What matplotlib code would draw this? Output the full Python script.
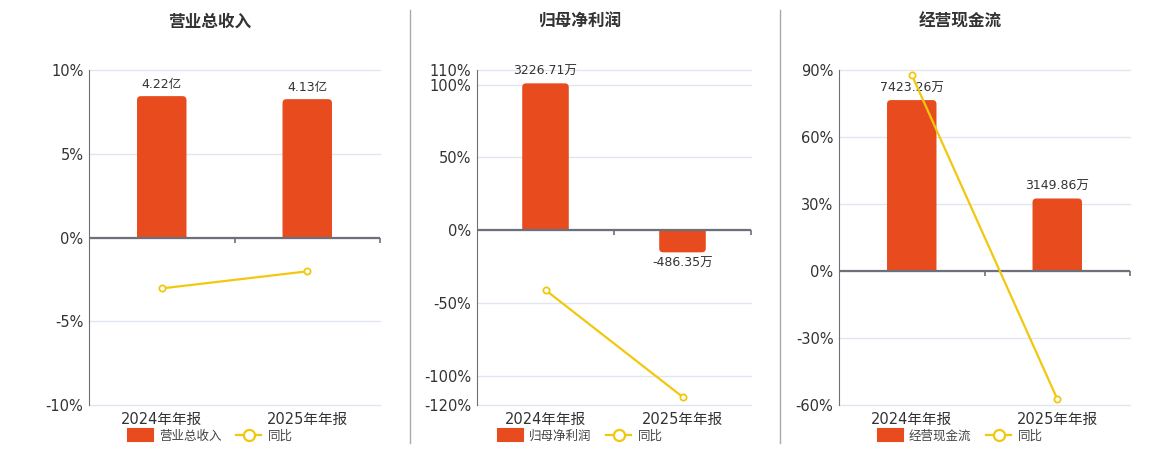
import numpy as np
import matplotlib
matplotlib.use("Agg")
import matplotlib.pyplot as plt
from matplotlib.lines import Line2D
from matplotlib.patches import Patch, PathPatch
from matplotlib.path import Path
from matplotlib.ticker import FuncFormatter

plt.rcParams['font.family'] = ['DejaVu Sans', 'Noto Sans CJK SC']

cats = ['2024年年报', '2025年年报']

rev = [4.22, 4.13]            # 亿
rev_yoy = [-3.04, -2.02]      # %
profit = [3226.71, -486.35]   # 万
profit_yoy = [-41.1, -114.4]
cash = [7423.26, 3149.86]     # 万
cash_yoy = [87.8, -57.3]

titles = ['营业总收入', '归母净利润', '经营现金流']
units = ['亿', '万', '万']

BAR = '#e84c1e'
LINE = '#f2c80f'
AXC = '#6e7079'
GRID = '#e0e6f1'
TXT = '#333333'

panels = [
    dict(bars=rev, yoy=rev_yoy, lim=(-10, 10), ticks=[-10, -5, 0, 5, 10], k=0.5),
    dict(bars=profit, yoy=profit_yoy, lim=(-120, 110), ticks=[-120, -100, -50, 0, 50, 100, 110], k=32.0),
    dict(bars=cash, yoy=cash_yoy, lim=(-60, 90), ticks=[-60, -30, 0, 30, 60, 90], k=97.0),
]

W, H = 1160, 450
fig = plt.figure(figsize=(W / 100, H / 100), dpi=100)

boxes = [(89, 380), (477, 751), (839, 1130)]
centers = [210, 580, 960]
top_px, bot_px = 70, 405


def round_bars(ax, bars, xpp, ypp, rpx=4):
    # swap square bars for ones with rounded outer corners
    for b in bars:
        x0, w, h = b.get_x(), b.get_width(), b.get_height()
        b.remove()
        x1 = x0 + w
        rx = rpx * xpp
        ry = rpx * ypp * (1 if h >= 0 else -1)
        verts = [(x0, 0), (x0, h - ry), (x0, h), (x0 + rx, h), (x1 - rx, h),
                 (x1, h), (x1, h - ry), (x1, 0), (x0, 0)]
        codes = [Path.MOVETO, Path.LINETO, Path.CURVE3, Path.CURVE3, Path.LINETO,
                 Path.CURVE3, Path.CURVE3, Path.LINETO, Path.CLOSEPOLY]
        ax.add_patch(PathPatch(Path(verts, codes), fc=BAR, ec='none', zorder=2))


for i, p in enumerate(panels):
    l, r = boxes[i]
    ax = fig.add_axes([l / W, 1 - bot_px / H, (r - l) / W, (bot_px - top_px) / H])
    k = p['k']
    lo, hi = p['lim']
    x = np.arange(len(cats))

    # bars axis (bottom), scaled so zero lines up with the percent axis
    ax.set_xlim(-0.5, 1.5)
    ax.set_ylim(lo * k, hi * k)
    ax.set_yticks([t * k for t in p['ticks']])
    ax.yaxis.set_major_formatter(FuncFormatter(lambda v, _, k=k: f"{v / k:.0f}%"))
    for t in p['ticks']:
        ax.axhline(t * k, color=GRID, lw=1, zorder=0, clip_on=False)
    bars = ax.bar(x, p['bars'], width=0.34, color=BAR, zorder=2)
    xpp = 2 / (r - l)
    ypp = (hi - lo) * k / (bot_px - top_px)
    for b, v in zip(bars, p['bars']):
        va = 'bottom' if v >= 0 else 'top'
        off = 4 if v >= 0 else -3
        ax.annotate(f"{v:.2f}{units[i]}", (b.get_x() + b.get_width() / 2, v),
                    xytext=(0, off), textcoords='offset points', ha='center', va=va,
                    fontsize=9, color=TXT, zorder=5)
    round_bars(ax, bars, xpp, ypp)

    ax.set_xticks(x)
    ax.set_xticklabels(cats, fontsize=10.5, color=TXT)
    ax.tick_params(axis='x', length=0, pad=5)
    ax.tick_params(axis='y', length=0, labelsize=10.5, labelcolor=TXT, pad=4)
    for s in ['top', 'right', 'bottom']:
        ax.spines[s].set_visible(False)
    ax.spines['left'].set_color(AXC)
    ax.spines['left'].set_zorder(3)

    # percent axis on top for the yoy line
    ay = ax.twinx()
    ay.set_ylim(lo, hi)
    ay.set_yticks([])
    for s in ay.spines.values():
        s.set_visible(False)
    ay.axhline(0, color=AXC, lw=1.6, zorder=3)
    tl = (hi - lo) * 5 / (bot_px - top_px)
    ay.vlines([0.5, 1.5], -tl, 0, color=AXC, lw=1.2, zorder=3, clip_on=False)
    ay.plot(x, p['yoy'], color=LINE, lw=1.6, marker='o', ms=4.5,
            mfc='white', mec=LINE, mew=1.3, zorder=4, clip_on=False)

    fig.text(centers[i] / W, 1 - 22 / H, titles[i], ha='center', va='center',
             fontsize=12, fontweight='bold', color=TXT)

    handles = [Patch(facecolor=BAR, edgecolor=BAR, capstyle='round', joinstyle='round', lw=1.5),
               Line2D([0], [0], color=LINE, lw=1.6, marker='o', ms=8, mfc='white', mec=LINE, mew=1.6)]
    fig.legend(handles, [titles[i], '同比'], loc='center', ncol=2,
               bbox_to_anchor=(centers[i] / W, 1 - 436 / H), frameon=False,
               fontsize=9, handlelength=2.0, handleheight=1.1, columnspacing=1.2,
               handletextpad=0.5, labelcolor='#444444')

for xp in [410, 780]:
    fig.add_artist(Line2D([xp / W, xp / W], [1 - 443 / H, 1 - 10 / H], color='#aaaaaa', lw=1))

fig.savefig('out.png', dpi=100, facecolor='white')
